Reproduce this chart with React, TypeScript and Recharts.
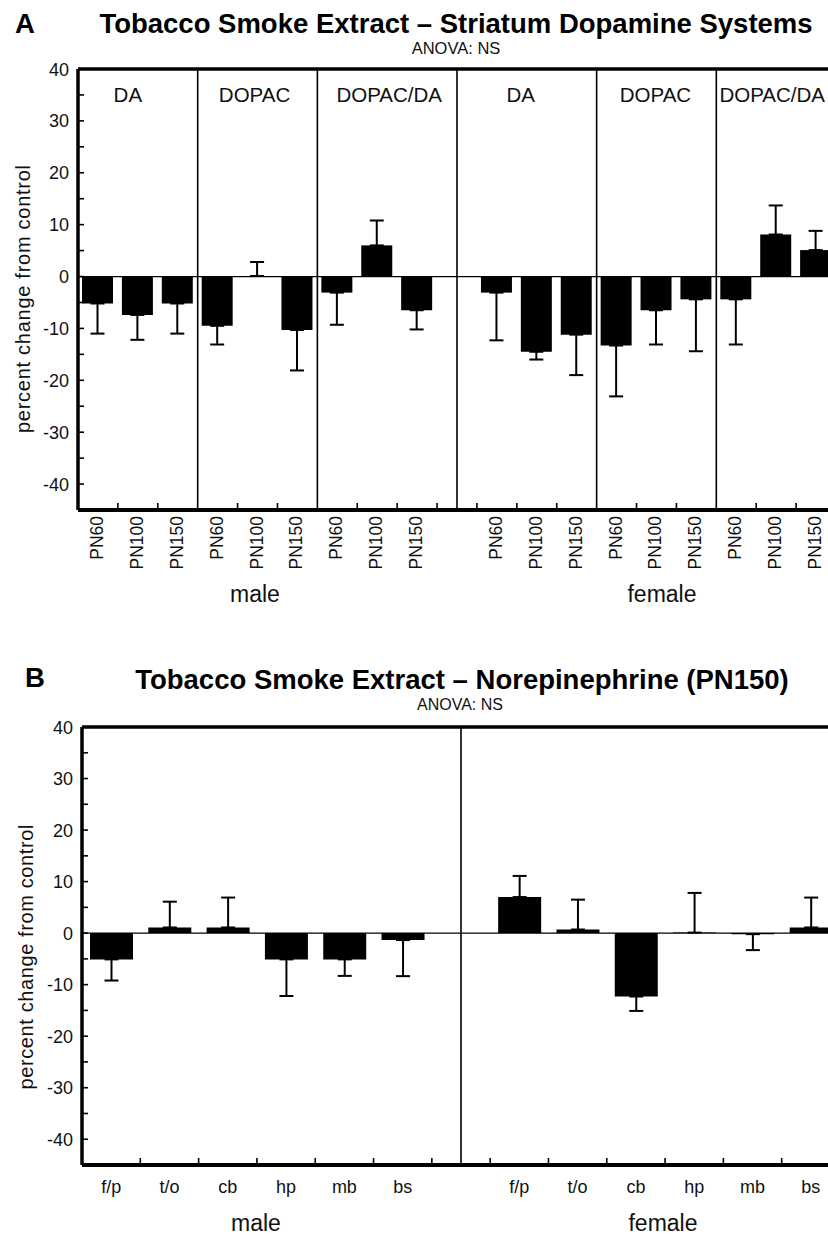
import React from 'react';
import { BarChart, Bar, XAxis, YAxis, ReferenceLine, ErrorBar } from 'recharts';

// panel A: striatum dopamine, 3 measures x 3 ages, per sex
const groupsA = ['DA', 'DOPAC', 'DOPAC/DA'];
const agesA = ['PN60', 'PN100', 'PN150'];
const maleMeanA = [-5.2, -7.4, -5.2, -9.5, 0.1, -10.3, -3.1, 6.0, -6.5];
const maleErrA = [5.8, 4.8, 5.8, 3.6, 2.7, 7.8, 6.2, 4.8, 3.7];
const femaleMeanA = [-3.1, -14.5, -11.2, -13.3, -6.5, -4.4, -4.4, 8.1, 5.1];
const femaleErrA = [9.2, 1.5, 7.8, 9.8, 6.6, 10.0, 8.7, 5.6, 3.7];

// panel B: norepinephrine by region at PN150
const regionsB = ['f/p', 't/o', 'cb', 'hp', 'mb', 'bs'];
const maleMeanB = [-5.1, 1.1, 1.1, -5.1, -5.1, -1.35];
const maleErrB = [4.1, 5.0, 5.8, 7.1, 3.2, 7.0];
const femaleMeanB = [7.0, 0.7, -12.3, 0.1, -0.2, 1.1];
const femaleErrB = [4.1, 5.8, 2.8, 7.7, 3.1, 5.8];

const yTicks = [-40, -35, -30, -25, -20, -15, -10, -5, 0, 5, 10, 15, 20, 25, 30, 35, 40];
const yDomain = [-45, 40];

// horizontal nudges for the measure labels at the top of panel A
const groupLabelDx = { male: [-10, -3, 12], female: [-16, -1, -4] };

const FONT = '"Liberation Sans", Arial, Helvetica, sans-serif';

type Row = {
  key: string;
  label: string;
  group: string;
  sex: string;
  value: number | null;
  err: number[] | null;
};

const oneSided = (v: number, e: number) => (v >= 0 ? [0, e] : [e, 0]);

const rowsA: Row[] = [];
const addA = (sex: string, means: number[], errs: number[]) => {
  groupsA.forEach((g, gi) =>
    agesA.forEach((a, ai) => {
      const i = gi * 3 + ai;
      rowsA.push({ key: `${sex}-${g}-${a}`, label: a, group: g, sex, value: means[i], err: oneSided(means[i], errs[i]) });
    })
  );
};
addA('male', maleMeanA, maleErrA);
rowsA.push({ key: 'gap', label: '', group: '', sex: '', value: null, err: null });
addA('female', femaleMeanA, femaleErrA);

const rowsB: Row[] = [];
const addB = (sex: string, means: number[], errs: number[]) => {
  regionsB.forEach((r, i) => {
    rowsB.push({ key: `${sex}-${r}`, label: r, group: r, sex, value: means[i], err: oneSided(means[i], errs[i]) });
  });
};
addB('male', maleMeanB, maleErrB);
rowsB.push({ key: 'gap', label: '', group: '', sex: '', value: null, err: null });
addB('female', femaleMeanB, femaleErrB);

const YTick = (props: any) => {
  const { x, y, payload } = props;
  return (
    <g>
      <line x1={x} x2={x + 6} y1={y} y2={y} stroke="#000" strokeWidth={1.6} />
      {payload.value % 10 === 0 && (
        <text x={x - 9} y={y} dy={6.5} textAnchor="end" fontSize={18} fill="#111">
          {payload.value}
        </text>
      )}
    </g>
  );
};

const XTickA = (props: any) => {
  const { x, y, payload, index } = props;
  const row = rowsA[index];
  const half = payload.offset ?? 20;
  const sepLeft = row && row.label === 'PN60' && row.group !== 'DA';
  return (
    <g>
      {index > 0 && !sepLeft && (
        <line x1={x - half} x2={x - half} y1={y} y2={y - 7} stroke="#000" strokeWidth={1.6} />
      )}
      {row && row.label && (
        <text transform={`translate(${x + 5},${y + 6}) rotate(-90)`} textAnchor="end" fontSize={17.5} fill="#111">
          {row.label}
        </text>
      )}
    </g>
  );
};

const XTickB = (props: any) => {
  const { x, y, payload, index } = props;
  const row = rowsB[index];
  const half = payload.offset ?? 29;
  return (
    <g>
      {index > 0 && <line x1={x - half} x2={x - half} y1={y} y2={y - 7} stroke="#000" strokeWidth={1.6} />}
      {row && row.label && (
        <text x={x} y={y + 28} textAnchor="middle" fontSize={18} fill="#111">
          {row.label}
        </text>
      )}
    </g>
  );
};

const GroupLabel = (props: any) => {
  const { viewBox, text, dx } = props;
  if (!viewBox) return null;
  return (
    <text x={viewBox.x + dx} y={viewBox.y + 33} textAnchor="middle" fontSize={20.5} fill="#111">
      {text}
    </text>
  );
};

const separatorsA = rowsA.filter((r) => r.label === 'PN60' && r.group !== 'DA').map((r) => r.key);
const groupMidsA = rowsA.filter((r) => r.label === 'PN100');

const Overlay = () => (
  <svg
    width={828}
    height={1236}
    style={{ position: 'absolute', left: 0, top: 0, pointerEvents: 'none', fontFamily: FONT }}
  >
    <text x={15} y={33} fontSize={27.5} fontWeight="bold">A</text>
    <text x={456} y={33} fontSize={27.5} fontWeight="bold" textAnchor="middle">
      Tobacco Smoke Extract – Striatum Dopamine Systems
    </text>
    <text x={456} y={54} fontSize={16.5} textAnchor="middle" fill="#111">ANOVA: NS</text>
    <text transform="translate(30,299) rotate(-90)" fontSize={20} textAnchor="middle" textLength={268} lengthAdjust="spacing" fill="#111">
      percent change from control
    </text>
    <text x={255} y={602} fontSize={23} textAnchor="middle" fill="#111">male</text>
    <text x={662} y={602} fontSize={23} textAnchor="middle" fill="#111">female</text>

    <text x={25} y={687} fontSize={27.5} fontWeight="bold">B</text>
    <text x={462} y={689} fontSize={27.5} fontWeight="bold" textAnchor="middle">
      Tobacco Smoke Extract – Norepinephrine (PN150)
    </text>
    <text x={460} y={710} fontSize={16} textAnchor="middle" fill="#111">ANOVA: NS</text>
    <text transform="translate(33,957) rotate(-90)" fontSize={20} textAnchor="middle" textLength={265} lengthAdjust="spacing" fill="#111">
      percent change from control
    </text>
    <text x={256} y={1231} fontSize={23} textAnchor="middle" fill="#111">male</text>
    <text x={663} y={1231} fontSize={23} textAnchor="middle" fill="#111">female</text>
  </svg>
);

const App = () => {
  return (
    <div
      style={{
        position: 'fixed',
        left: 0,
        top: 0,
        width: 828,
        height: 1236,
        overflow: 'hidden',
        background: '#fff',
        fontFamily: FONT,
      }}
    >
      <div style={{ position: 'absolute', left: 0, top: 0 }}>
        <BarChart width={860} height={570} data={rowsA} margin={{ top: 69, right: 24, left: 18, bottom: 0 }} barSize={31}>
          <XAxis
            dataKey="key"
            interval={0}
            height={60}
            tickSize={0}
            tickMargin={0}
            tickLine={false}
            axisLine={{ stroke: '#000', strokeWidth: 4 }}
            tick={<XTickA />}
          />
          <YAxis
            domain={yDomain}
            ticks={yTicks}
            interval={0}
            width={60}
            tickSize={0}
            tickMargin={0}
            tickLine={false}
            axisLine={{ stroke: '#000', strokeWidth: 3.5 }}
            tick={<YTick />}
          />
          <ReferenceLine y={40} stroke="#000" strokeWidth={3.5} />
          <ReferenceLine y={0} stroke="#000" strokeWidth={1.3} />
          {separatorsA.map((k) => (
            <ReferenceLine key={k} x={k} position="start" stroke="#000" strokeWidth={1.6} />
          ))}
          <ReferenceLine x="gap" position="middle" stroke="#000" strokeWidth={1.6} />
          {groupMidsA.map((r) => (
            <ReferenceLine
              key={`lbl-${r.key}`}
              x={r.key}
              stroke="none"
              label={<GroupLabel text={r.group} dx={groupLabelDx[r.sex as 'male' | 'female'][groupsA.indexOf(r.group)]} />}
            />
          ))}
          <Bar dataKey="value" fill="#000" isAnimationActive={false}>
            <ErrorBar dataKey="err" direction="y" width={7} stroke="#000" strokeWidth={2} isAnimationActive={false} />
          </Bar>
        </BarChart>
      </div>

      <div style={{ position: 'absolute', left: 0, top: 660 }}>
        <BarChart width={860} height={545} data={rowsB} margin={{ top: 67, right: 20, left: 22, bottom: 0 }} barSize={43}>
          <XAxis
            dataKey="key"
            interval={0}
            height={40}
            tickSize={0}
            tickMargin={0}
            tickLine={false}
            axisLine={{ stroke: '#000', strokeWidth: 4 }}
            tick={<XTickB />}
          />
          <YAxis
            domain={yDomain}
            ticks={yTicks}
            interval={0}
            width={60}
            tickSize={0}
            tickMargin={0}
            tickLine={false}
            axisLine={{ stroke: '#000', strokeWidth: 3.5 }}
            tick={<YTick />}
          />
          <ReferenceLine y={40} stroke="#000" strokeWidth={3.5} />
          <ReferenceLine y={0} stroke="#000" strokeWidth={1.3} />
          <ReferenceLine x="gap" position="middle" stroke="#000" strokeWidth={1.6} />
          <Bar dataKey="value" fill="#000" isAnimationActive={false}>
            <ErrorBar dataKey="err" direction="y" width={7} stroke="#000" strokeWidth={2} isAnimationActive={false} />
          </Bar>
        </BarChart>
      </div>

      <Overlay />
    </div>
  );
};

export default App;
